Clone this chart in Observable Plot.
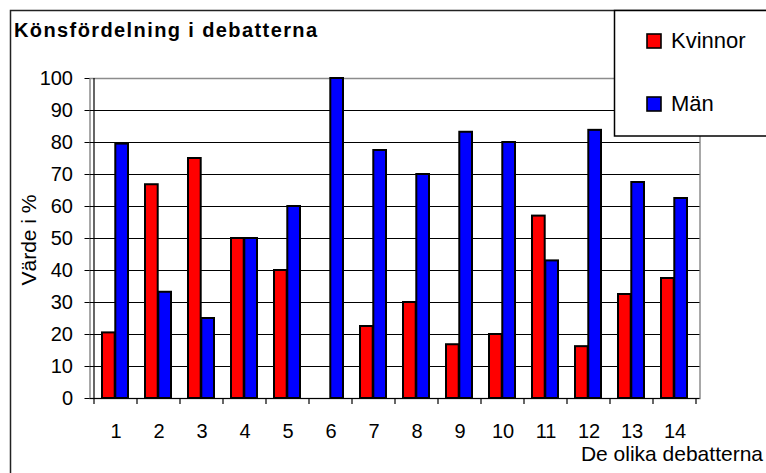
<!DOCTYPE html>
<html>
<head>
<meta charset="utf-8">
<script src="https://cdn.jsdelivr.net/npm/d3@7"></script>
<script src="https://cdn.jsdelivr.net/npm/@observablehq/plot@0.6"></script>
<style>
  html, body { margin: 0; padding: 0; background: #fff; }
  svg { display: block; }
</style>
</head>
<body>
<div id="chart"></div>
<script>
const title = "Könsfördelning i debatterna";
const yLabel = "Värde i %";
const xLabel = "De olika debatterna";
const seriesNames = ["Kvinnor", "Män"];
const categories = ["1","2","3","4","5","6","7","8","9","10","11","12","13","14"];
const kvinnor = [20.5, 66.8, 75, 50, 40, 0, 22.5, 30, 16.8, 20, 57, 16.2, 32.5, 37.5];
const man     = [79.5, 33.2, 25, 50, 60, 100, 77.5, 70, 83.2, 80, 43, 83.8, 67.5, 62.5];
const yTicks = [0,10,20,30,40,50,60,70,80,90,100];
const gridTicks = [10,20,30,40,50,60,70,80,90];

const colors = {Kvinnor: "#ff0000", "Män": "#0000ff"};
const rows = categories.map((c, i) => ({cat: c, k: kvinnor[i], m: man[i]}));

const font = "'Liberation Sans', Arial, sans-serif";

const plot = Plot.plot({
  width: 766,
  height: 473,
  marginLeft: 89.5,
  marginRight: 66.5,
  marginTop: 78,
  marginBottom: 75,
  style: {fontFamily: font, color: "#000", background: "#fff"},
  x: {domain: categories, padding: 0, axis: null},
  y: {domain: [0, 100], axis: null},
  marks: [
    Plot.frame({stroke: "#8c8c8c", strokeWidth: 1.5}),
    Plot.ruleY(gridTicks, {stroke: "#000", strokeWidth: 1.2}),
    Plot.barY(rows.filter(d => d.k > 0), {x: "cat", y: "k", fill: colors.Kvinnor, stroke: "#000", strokeWidth: 2, insetLeft: 8, insetRight: 22.3}),
    Plot.barY(rows.filter(d => d.m > 0), {x: "cat", y: "m", fill: colors["Män"], stroke: "#000", strokeWidth: 2, insetLeft: 21.3, insetRight: 9}),
    Plot.ruleY([0], {stroke: "#000", strokeWidth: 1.2}),
    Plot.axisY({ticks: yTicks, tickSize: 5, tickPadding: 12, fontSize: 20, label: null, stroke: "#000"}),
    Plot.axisX({tickSize: 0, tickPadding: 25, fontSize: 20, label: null})
  ]
});

document.getElementById("chart").appendChild(plot);

const svg = d3.select(plot);
const xs = plot.scale("x");
const ys = plot.scale("y");
const y0 = ys.apply(0), y100 = ys.apply(100);
const xStart = xs.apply(categories[0]);
const xEnd = xs.apply(categories[categories.length - 1]) + xs.bandwidth;

// left axis line
svg.append("line").attr("x1", xStart).attr("x2", xStart).attr("y1", y100).attr("y2", y0)
  .attr("stroke", "#000").attr("stroke-width", 1.2);
// boundary ticks on x axis
const bounds = categories.map(c => xs.apply(c)).concat([xEnd]);
svg.append("g").selectAll("line").data(bounds).join("line")
  .attr("x1", d => d).attr("x2", d => d).attr("y1", y0).attr("y2", y0 + 6)
  .attr("stroke", "#000").attr("stroke-width", 1.2);

// outer chart border
svg.append("rect").attr("x", 10.5).attr("y", 10.5).attr("width", 770).attr("height", 480)
  .attr("fill", "none").attr("stroke", "#222").attr("stroke-width", 1.5);

// title
svg.append("text").attr("x", 14).attr("y", 37).attr("text-anchor", "start").text(title)
  .attr("font-family", font).attr("font-weight", "bold").attr("font-size", 20)
  .attr("letter-spacing", "1.4px").attr("fill", "#000");

// y label
svg.append("text").attr("transform", "translate(36,240) rotate(-90)")
  .attr("text-anchor", "middle").text(yLabel)
  .attr("font-family", font).attr("font-size", 21).attr("fill", "#000");

// x label
svg.append("text").attr("x", 763).attr("y", 461).attr("text-anchor", "end").text(xLabel)
  .attr("font-family", font).attr("font-size", 21).attr("fill", "#000");

// legend
const lg = svg.append("g");
lg.append("rect").attr("x", 614.5).attr("y", 10.5).attr("width", 170).attr("height", 125.5)
  .attr("fill", "#fff").attr("stroke", "#000").attr("stroke-width", 1.5);
const legendY = [34, 97];
seriesNames.forEach((name, i) => {
  lg.append("rect").attr("x", 647).attr("y", legendY[i]).attr("width", 14).attr("height", 14)
    .attr("fill", colors[name]).attr("stroke", "#000").attr("stroke-width", 1.6);
  lg.append("text").attr("x", 671).attr("y", legendY[i] + 14).attr("text-anchor", "start").text(name)
    .attr("font-family", font).attr("font-size", 22).attr("fill", "#000");
});
</script>
</body>
</html>
